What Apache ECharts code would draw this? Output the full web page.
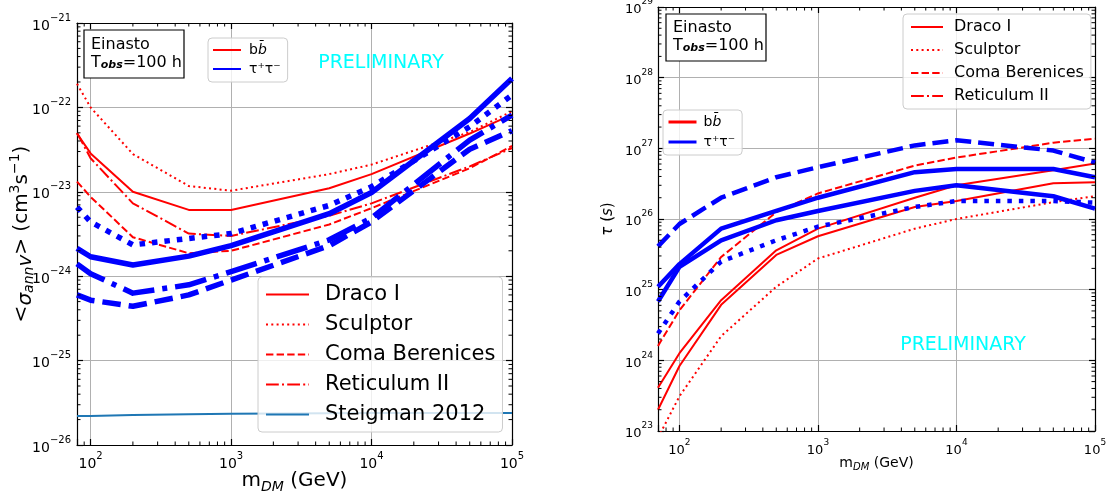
<!DOCTYPE html>
<html><head><meta charset="utf-8">
<script src="https://cdn.jsdelivr.net/npm/echarts@6/dist/echarts.min.js"></script>
<style>html,body{margin:0;padding:0;background:#fff}#c{width:1110px;height:498px}</style>
</head><body><div id="c"></div>
<script>
// ---------------- data ----------------
const massLeft = [80, 100, 200, 500, 1000, 5000, 10000, 50000, 100000];
const massRight = [70, 100, 200, 500, 1000, 5000, 10000, 50000, 100000];

// left panel: <sigma v> limits (cm^3 s^-1)
const svBbDraco     = [4.9e-23, 2.85e-23, 1.0e-23, 6.1e-24, 6.1e-24, 1.1e-23, 1.62e-23, 4.9e-23, 8.2e-23];
const svBbSculptor  = [1.9e-22, 1.0e-22, 2.8e-23, 1.17e-23, 1.03e-23, 1.62e-23, 2.1e-23, 5.1e-23, 9.0e-23];
const svBbComa      = [1.32e-23, 8.7e-24, 2.9e-24, 1.87e-24, 2.0e-24, 4.1e-24, 6.4e-24, 1.9e-23, 3.5e-23];
const svBbReticulum = [5.0e-23, 2.5e-23, 7.3e-24, 3.2e-24, 3.0e-24, 5.2e-24, 7.3e-24, 2.0e-23, 3.3e-23];
const svTtDraco     = [2.14e-24, 1.7e-24, 1.36e-24, 1.73e-24, 2.3e-24, 5.5e-24, 9.8e-24, 7.4e-23, 2.2e-22];
const svTtSculptor  = [6.6e-24, 4.4e-24, 2.35e-24, 2.8e-24, 3.2e-24, 6.9e-24, 1.15e-23, 5.9e-23, 1.4e-22];
const svTtComa      = [6.0e-25, 5.2e-25, 4.4e-25, 6.0e-25, 9.0e-25, 2.3e-24, 4.4e-24, 3.2e-23, 5.3e-23];
const svTtReticulum = [1.4e-24, 1.07e-24, 6.3e-25, 7.9e-25, 1.13e-24, 2.7e-24, 4.9e-24, 4.1e-23, 8.1e-23];
const svSteigman    = [2.2e-26, 2.2e-26, 2.27e-26, 2.32e-26, 2.35e-26, 2.38e-26, 2.39e-26, 2.4e-26, 2.4e-26];

// right panel: lifetime limits tau (s)
const tauBbDraco     = [4.1e23, 1.26e24, 7.1e24, 3.6e25, 7.3e25, 2.0e26, 3.0e26, 4.9e26, 6.1e26];
const tauBbSculptor  = [8.0e22, 3.1e23, 2.2e24, 1.1e25, 2.76e25, 7.3e25, 1.0e26, 1.73e26, 2.1e26];
const tauBbComa      = [1.6e24, 5.1e24, 2.9e25, 1.25e26, 2.3e26, 5.7e26, 7.4e26, 1.2e27, 1.37e27];
const tauBbReticulum = [2.0e23, 8.3e23, 6.1e24, 3.1e25, 5.7e25, 1.48e26, 1.8e26, 3.2e26, 3.3e26];
const tauTtDraco     = [1.1e25, 2.3e25, 7.3e25, 1.3e26, 2.0e26, 4.6e26, 5.1e26, 5.1e26, 3.9e26];
const tauTtSculptor  = [2.4e24, 6.8e24, 2.5e25, 5.0e25, 7.8e25, 1.48e26, 1.8e26, 1.8e26, 1.7e26];
const tauTtComa      = [4.1e25, 8.5e25, 2.0e26, 3.9e26, 5.4e26, 1.1e27, 1.3e27, 9.3e26, 6.3e26];
const tauTtReticulum = [6.8e24, 2.1e25, 5.0e25, 9.6e25, 1.3e26, 2.5e26, 3.0e26, 2.1e26, 1.4e26];

const dwarfNames = ['Draco I', 'Sculptor', 'Coma Berenices', 'Reticulum II'];
const channelNames = ['b\u0062\u0304', '\u03c4\u207a\u03c4\u207b'];
const steigmanName = 'Steigman 2012';

// axis ranges
const leftX = [80, 1e5], leftY = [1e-26, 1e-21];
const rightX = [70, 1e5], rightY = [1e23, 1e29];

// ---------------- styling ----------------
const RED = '#ff0000', BLUE = '#0000ff', C0 = '#1f77b4';
const FONT = 'DejaVu Sans';
const redDash = {solid: 'solid', dotted: [2, 3.3], dashed: [7.4, 3.2], dashdot: [12.8, 3.2, 2, 3.2]};
const blueDashL = {solid: 'solid', dotted: [5.5, 7], dashed: [18.5, 8], dashdot: [32, 8, 5, 8]};
const blueDashR = {solid: 'solid', dotted: [4.5, 7], dashed: [16, 7], dashdot: 'solid'};

// left panel y values are plotted on a value axis in decades (log10), because
// the log scale loses precision for values this small
const ident = v => v;
const dec = v => Math.log10(v);

function lineSeries(name, xs, ys, color, width, type, gi, fy) {
  return {
    type: 'line', name: name, xAxisIndex: gi * 2, yAxisIndex: gi * 2,
    data: xs.map((x, i) => [x, fy(ys[i])]),
    symbol: 'none', showSymbol: false, clip: true, silent: true,
    lineStyle: {color: color, width: width, type: type, cap: 'butt', join: 'round'},
    itemStyle: {color: color}, emphasis: {disabled: true}
  };
}

function supLabel(r) {
  return '{b|10}{s|' + (r < 0 ? '\u2212' + (-r) : r) + '}';
}
function pow10Label(v) {
  const e = Math.log10(v);
  if (!isFinite(e)) return '';
  const r = Math.round(e);
  if (Math.abs(e - r) > 1e-6) return '';
  return supLabel(r);
}
function decLabel(v) {
  const r = Math.round(v);
  if (Math.abs(v - r) > 1e-6) return '';
  return supLabel(r);
}
function tickRich(fs, ss) {
  return {
    b: {fontSize: fs, fontFamily: FONT, color: '#000', lineHeight: fs + 6, verticalAlign: 'bottom'},
    s: {fontSize: ss, fontFamily: FONT, color: '#000', lineHeight: ss + 2, verticalAlign: 'top'}
  };
}

function minorTickValues(lo, hi) {
  const out = [];
  for (let k = Math.floor(Math.log10(lo)) - 1; k <= Math.ceil(Math.log10(hi)); k++) {
    for (let d = 2; d <= 9; d++) {
      const v = d * Math.pow(10, k);
      if (v > lo * 1.0001 && v < hi * 0.9999) out.push(v);
    }
  }
  return out;
}
function minorTickSeries(gi, xr, yr, fy) {
  const data = [];
  const y0 = fy(yr[0]), y1 = fy(yr[1]);
  minorTickValues(xr[0], xr[1]).forEach(v => data.push([v, y0, 0]));
  minorTickValues(yr[0], yr[1]).forEach(v => data.push([xr[0], fy(v), 1]));
  return {
    type: 'custom', name: 'minor' + gi, xAxisIndex: gi * 2, yAxisIndex: gi * 2, silent: true, clip: false, z: 10,
    encode: {x: 0, y: 1}, data: data,
    renderItem: function (params, api) {
      const x = api.value(0), y = api.value(1), k = api.value(2), L = 3.5;
      const st = {stroke: '#000', lineWidth: 1};
      if (k === 0) {
        const p = api.coord([x, y0]), q = api.coord([x, y1]);
        return {type: 'group', children: [
          {type: 'line', shape: {x1: p[0], y1: p[1], x2: p[0], y2: p[1] - L}, style: st},
          {type: 'line', shape: {x1: q[0], y1: q[1], x2: q[0], y2: q[1] + L}, style: st}]};
      }
      const p = api.coord([xr[0], y]), q = api.coord([xr[1], y]);
      return {type: 'group', children: [
        {type: 'line', shape: {x1: p[0], y1: p[1], x2: p[0] + L, y2: p[1]}, style: st},
        {type: 'line', shape: {x1: q[0], y1: q[1], x2: q[0] - L, y2: q[1]}, style: st}]};
    }
  };
}

function axisCommon(isMain) {
  return {
    axisLine: {show: true, onZero: false, lineStyle: {color: '#000', width: 1.2}},
    axisTick: {show: true, inside: true, length: 6, lineStyle: {color: '#000', width: 1.2}},
    minorTick: {show: false}, minorSplitLine: {show: false},
    splitLine: {show: isMain, lineStyle: {color: '#b0b0b0', width: 1}}
  };
}
function logAxis(dim, gi, range, main, lab) {
  return Object.assign(axisCommon(main), {
    type: 'log', logBase: 10, gridIndex: gi, min: range[0], max: range[1],
    position: main ? (dim === 'x' ? 'bottom' : 'left') : (dim === 'x' ? 'top' : 'right'),
    axisLabel: main ? Object.assign({show: true, formatter: pow10Label, showMinLabel: true, showMaxLabel: true,
      hideOverlap: false, color: '#000'}, lab) : {show: false}
  });
}
function decAxis(gi, range, main, lab) {
  return Object.assign(axisCommon(main), {
    type: 'value', gridIndex: gi, min: dec(range[0]), max: dec(range[1]), interval: 1,
    position: main ? 'left' : 'right',
    axisLabel: main ? Object.assign({show: true, formatter: decLabel, showMinLabel: true, showMaxLabel: true,
      hideOverlap: false, color: '#000'}, lab) : {show: false}
  });
}
function named(ax, name, gap, style) {
  return Object.assign(ax, {name: name, nameLocation: 'middle', nameGap: gap, nameTextStyle: style, nameMoveOverlap: false});
}

const leftYName = '<{i|\u03c3}{sub|ann}{i|v}> (cm{sup|3}s{sup|\u22121})';
const leftYStyle = {fontSize: 20, fontFamily: FONT, color: '#000', rich: {
  i: {fontSize: 20, fontFamily: FONT, fontStyle: 'italic', lineHeight: 28, verticalAlign: 'bottom'},
  sub: {fontSize: 14, fontFamily: FONT, fontStyle: 'italic', lineHeight: 16, verticalAlign: 'bottom'},
  sup: {fontSize: 14, fontFamily: FONT, lineHeight: 16, verticalAlign: 'top'}}};
const leftXStyle = {fontSize: 20, fontFamily: FONT, color: '#000', lineHeight: 26, rich: {
  sub: {fontSize: 14, fontFamily: FONT, fontStyle: 'italic', lineHeight: 14, verticalAlign: 'bottom'}}};
const rightXStyle = {fontSize: 14, fontFamily: FONT, color: '#000', lineHeight: 18, rich: {
  sub: {fontSize: 10, fontFamily: FONT, fontStyle: 'italic', lineHeight: 10, verticalAlign: 'bottom'}}};
const rightYStyle = {fontSize: 15, fontFamily: FONT, color: '#000', rich: {
  i: {fontSize: 15, fontFamily: FONT, fontStyle: 'italic'}}};

// ---------------- series ----------------
const series = [];
const leftBb = [svBbDraco, svBbSculptor, svBbComa, svBbReticulum];
const leftTt = [svTtDraco, svTtSculptor, svTtComa, svTtReticulum];
const rightBb = [tauBbDraco, tauBbSculptor, tauBbComa, tauBbReticulum];
const rightTt = [tauTtDraco, tauTtSculptor, tauTtComa, tauTtReticulum];
const styleKeys = ['solid', 'dotted', 'dashed', 'dashdot'];
const rightRedKeys = ['solid', 'dotted', 'dashed', 'solid'];

dwarfNames.forEach((n, i) => series.push(lineSeries(n, massLeft, leftBb[i], RED, 2, redDash[styleKeys[i]], 0, dec)));
dwarfNames.forEach((n, i) => series.push(lineSeries(n + ' ' + channelNames[1], massLeft, leftTt[i], BLUE, 5.5, blueDashL[styleKeys[i]], 0, dec)));
series.push(lineSeries(steigmanName, massLeft, svSteigman, C0, 2, 'solid', 0, dec));
dwarfNames.forEach((n, i) => series.push(lineSeries(n, massRight, rightBb[i], RED, 2, redDash[rightRedKeys[i]], 1, ident)));
dwarfNames.forEach((n, i) => series.push(lineSeries(n + ' ' + channelNames[1] + ' ', massRight, rightTt[i], BLUE, 4.5, blueDashR[styleKeys[i]], 1, ident)));
// channel legend entries
series.push({type: 'line', name: channelNames[0], xAxisIndex: 0, yAxisIndex: 0, data: [], symbol: 'none',
  lineStyle: {color: RED, width: 2}, itemStyle: {color: RED}});
series.push({type: 'line', name: channelNames[1], xAxisIndex: 0, yAxisIndex: 0, data: [], symbol: 'none',
  lineStyle: {color: BLUE, width: 6}, itemStyle: {color: BLUE}});
series.push(minorTickSeries(0, leftX, leftY, dec));
series.push(minorTickSeries(1, rightX, rightY, ident));

const legendBase = {orient: 'vertical', selectedMode: false, backgroundColor: 'rgba(255,255,255,0.8)',
  borderColor: '#cccccc', borderWidth: 1, borderRadius: 4, itemStyle: {opacity: 0}};
const chFormatter = name => name === channelNames[0] ? 'b{i|b\u0304}' : name;

const option = {
  animation: false,
  backgroundColor: '#ffffff',
  grid: [
    {left: 77, top: 23, width: 435, height: 422, outerBoundsMode: 'none', containLabel: false},
    {left: 658, top: 7, width: 437, height: 424, outerBoundsMode: 'none', containLabel: false}
  ],
  xAxis: [
    named(logAxis('x', 0, leftX, true, {margin: 6, rich: tickRich(14, 10)}), 'm{sub|DM} (GeV)', 23, leftXStyle),
    logAxis('x', 0, leftX, false),
    named(logAxis('x', 1, rightX, true, {margin: 7, rich: tickRich(13, 9)}), 'm{sub|DM} (GeV)', 23, rightXStyle),
    logAxis('x', 1, rightX, false)
  ],
  yAxis: [
    named(decAxis(0, leftY, true, {margin: 6, rich: tickRich(14, 10)}), leftYName, 41, leftYStyle),
    decAxis(0, leftY, false),
    named(logAxis('y', 1, rightY, true, {margin: 5, rich: tickRich(13, 9)}), '{i|\u03c4} ({i|s})', 42, rightYStyle),
    logAxis('y', 1, rightY, false)
  ],
  legend: [
    Object.assign({}, legendBase, {left: 258, top: 277, itemWidth: 43, itemHeight: 14, itemGap: 9,
      padding: [7, 7, 7, 7], data: dwarfNames.concat([steigmanName]),
      textStyle: {fontSize: 21, fontFamily: FONT, color: '#000', padding: [0, 0, 0, 11]}}),
    Object.assign({}, legendBase, {left: 208, top: 38, itemWidth: 28, itemHeight: 10, itemGap: 5,
      padding: [5, 7, 6, 4], formatter: chFormatter,
      data: [{name: channelNames[0]}, {name: channelNames[1]}],
      textStyle: {fontSize: 14, fontFamily: FONT, color: '#000', padding: [0, 0, 0, 3],
        rich: {i: {fontSize: 14, fontFamily: FONT, fontStyle: 'italic'}}}}),
    Object.assign({}, legendBase, {left: 903, top: 14, itemWidth: 32, itemHeight: 10, itemGap: 7,
      padding: [5, 7, 5, 7], data: dwarfNames,
      textStyle: {fontSize: 16, fontFamily: FONT, color: '#000', padding: [0, 0, 0, 6]}}),
    Object.assign({}, legendBase, {left: 663, top: 110, itemWidth: 28, itemHeight: 10, itemGap: 6,
      padding: [5, 7, 6, 4], formatter: chFormatter,
      data: [{name: channelNames[0], lineStyle: {width: 3}}, {name: channelNames[1], lineStyle: {width: 3}}],
      textStyle: {fontSize: 14, fontFamily: FONT, color: '#000', padding: [0, 0, 0, 2],
        rich: {i: {fontSize: 14, fontFamily: FONT, fontStyle: 'italic'}}}})
  ],
  graphic: [
    {type: 'rect', z: 100, shape: {x: 84, y: 30, width: 100, height: 48},
      style: {fill: '#fff', stroke: '#000', lineWidth: 1.2}},
    {type: 'text', z: 101, x: 91, y: 45, style: {text: 'Einasto', font: '16px "DejaVu Sans"', fill: '#000', verticalAlign: 'middle'}},
    {type: 'text', z: 101, x: 91, y: 63, style: {text: 'T{sub|obs}=100 h', font: '16px "DejaVu Sans"', fill: '#000', verticalAlign: 'middle',
      rich: {sub: {fontSize: 11, fontFamily: FONT, fontStyle: 'italic', fontWeight: 'bold', verticalAlign: 'bottom', lineHeight: 12}}}},
    {type: 'rect', z: 100, shape: {x: 666, y: 14, width: 100, height: 47},
      style: {fill: '#fff', stroke: '#000', lineWidth: 1.2}},
    {type: 'text', z: 101, x: 673, y: 28, style: {text: 'Einasto', font: '16px "DejaVu Sans"', fill: '#000', verticalAlign: 'middle'}},
    {type: 'text', z: 101, x: 673, y: 46, style: {text: 'T{sub|obs}=100 h', font: '16px "DejaVu Sans"', fill: '#000', verticalAlign: 'middle',
      rich: {sub: {fontSize: 11, fontFamily: FONT, fontStyle: 'italic', fontWeight: 'bold', verticalAlign: 'bottom', lineHeight: 12}}}},
    {type: 'text', z: 101, x: 381, y: 63, style: {text: 'PRELIMINARY', font: '19px "DejaVu Sans"', fill: '#00ffff', align: 'center', verticalAlign: 'middle'}},
    {type: 'text', z: 101, x: 963, y: 345, style: {text: 'PRELIMINARY', font: '19px "DejaVu Sans"', fill: '#00ffff', align: 'center', verticalAlign: 'middle'}}
  ],
  series: series
};

const chart = echarts.init(document.getElementById('c'), null, {renderer: 'canvas'});
chart.setOption(option);
</script>
</body></html>
